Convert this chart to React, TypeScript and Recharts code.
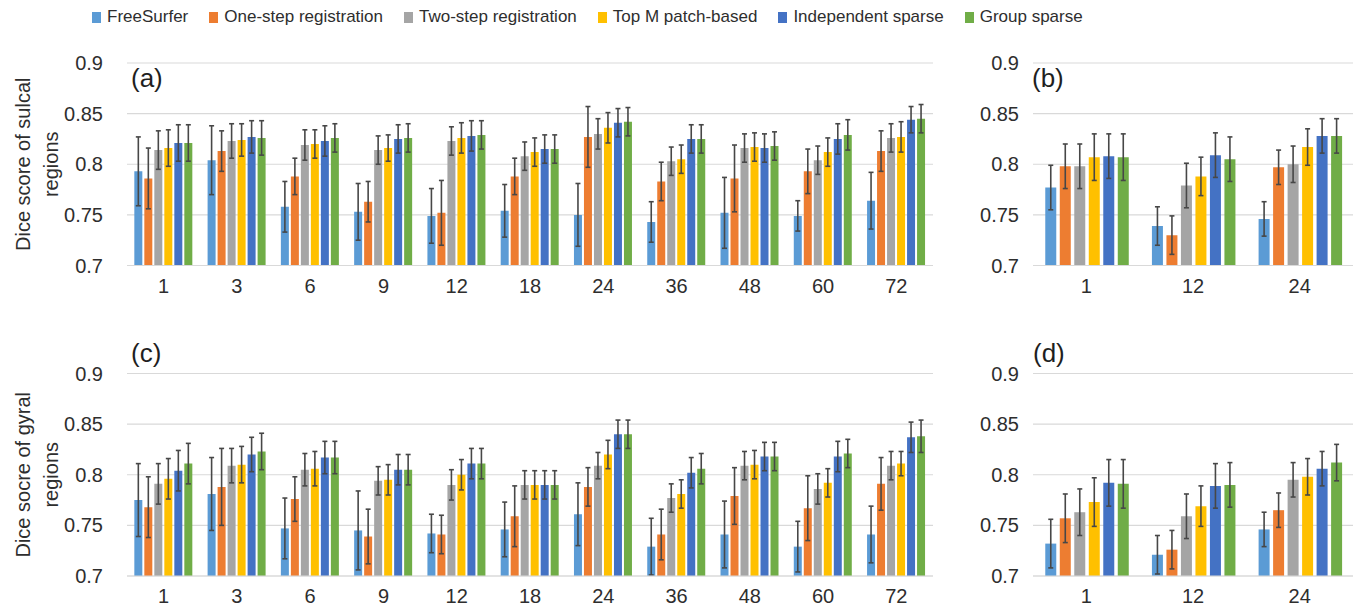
import React from "react";
import { Bar, BarChart, CartesianGrid, ErrorBar, Label, XAxis, YAxis } from "recharts";

const methodNames = [
  "FreeSurfer",
  "One-step registration",
  "Two-step registration",
  "Top M patch-based",
  "Independent sparse",
  "Group sparse",
];
const methodKeys = ["fs", "one", "two", "topm", "ind", "grp"];
const methodColors = ["#5b9bd5", "#ed7d31", "#a5a5a5", "#ffc000", "#4472c4", "#70ad47"];

const allAtlases = ["1", "3", "6", "9", "12", "18", "24", "36", "48", "60", "72"];
const fewAtlases = ["1", "12", "24"];
const yTicks = [0.7, 0.75, 0.8, 0.85, 0.9];

// (a) sulcal, rows = methods, columns = allAtlases
const sulcalMeans = [
  [0.793, 0.804, 0.758, 0.753, 0.749, 0.754, 0.75, 0.743, 0.752, 0.749, 0.764],
  [0.786, 0.813, 0.788, 0.763, 0.752, 0.788, 0.827, 0.783, 0.786, 0.793, 0.813],
  [0.814, 0.823, 0.819, 0.814, 0.823, 0.808, 0.83, 0.803, 0.816, 0.804, 0.826],
  [0.816, 0.824, 0.82, 0.816, 0.826, 0.812, 0.836, 0.805, 0.817, 0.812, 0.827],
  [0.821, 0.827, 0.823, 0.825, 0.828, 0.815, 0.841, 0.825, 0.816, 0.825, 0.844],
  [0.821, 0.826, 0.826, 0.826, 0.829, 0.815, 0.842, 0.825, 0.818, 0.829, 0.845],
];
const sulcalErrs = [
  [0.034, 0.034, 0.025, 0.028, 0.027, 0.026, 0.031, 0.02, 0.035, 0.015, 0.028],
  [0.03, 0.02, 0.018, 0.02, 0.032, 0.018, 0.03, 0.019, 0.033, 0.022, 0.02],
  [0.019, 0.017, 0.015, 0.014, 0.014, 0.014, 0.015, 0.014, 0.014, 0.014, 0.014],
  [0.018, 0.016, 0.014, 0.013, 0.015, 0.014, 0.015, 0.014, 0.014, 0.014, 0.015],
  [0.018, 0.016, 0.015, 0.014, 0.015, 0.014, 0.014, 0.014, 0.014, 0.015, 0.013],
  [0.018, 0.017, 0.014, 0.014, 0.014, 0.014, 0.014, 0.014, 0.014, 0.015, 0.014],
];

// (b) sulcal, columns = fewAtlases
const sulcalFewMeans = [
  [0.777, 0.739, 0.746],
  [0.798, 0.73, 0.797],
  [0.798, 0.779, 0.8],
  [0.807, 0.788, 0.817],
  [0.808, 0.809, 0.828],
  [0.807, 0.805, 0.828],
];
const sulcalFewErrs = [
  [0.022, 0.019, 0.017],
  [0.022, 0.019, 0.017],
  [0.022, 0.022, 0.018],
  [0.023, 0.019, 0.018],
  [0.022, 0.022, 0.017],
  [0.023, 0.022, 0.017],
];

// (c) gyral
const gyralMeans = [
  [0.775, 0.781, 0.747, 0.745, 0.742, 0.746, 0.761, 0.729, 0.741, 0.729, 0.741],
  [0.768, 0.788, 0.776, 0.739, 0.741, 0.759, 0.788, 0.741, 0.779, 0.767, 0.791],
  [0.791, 0.809, 0.805, 0.794, 0.79, 0.79, 0.809, 0.777, 0.809, 0.786, 0.809],
  [0.796, 0.81, 0.806, 0.795, 0.8, 0.79, 0.82, 0.781, 0.81, 0.792, 0.811],
  [0.804, 0.82, 0.817, 0.805, 0.811, 0.79, 0.84, 0.802, 0.818, 0.818, 0.837],
  [0.811, 0.823, 0.817, 0.805, 0.811, 0.79, 0.84, 0.806, 0.818, 0.821, 0.838],
];
const gyralErrs = [
  [0.036, 0.036, 0.03, 0.039, 0.019, 0.027, 0.031, 0.028, 0.033, 0.025, 0.028],
  [0.03, 0.038, 0.022, 0.027, 0.019, 0.03, 0.019, 0.025, 0.028, 0.032, 0.026],
  [0.02, 0.017, 0.016, 0.014, 0.015, 0.014, 0.013, 0.014, 0.014, 0.015, 0.014],
  [0.02, 0.018, 0.017, 0.015, 0.015, 0.014, 0.014, 0.014, 0.014, 0.014, 0.012],
  [0.02, 0.017, 0.016, 0.015, 0.015, 0.014, 0.014, 0.015, 0.014, 0.015, 0.015],
  [0.02, 0.018, 0.016, 0.015, 0.015, 0.014, 0.014, 0.015, 0.014, 0.014, 0.016],
];

// (d) gyral
const gyralFewMeans = [
  [0.732, 0.721, 0.746],
  [0.757, 0.726, 0.765],
  [0.763, 0.759, 0.795],
  [0.773, 0.769, 0.798],
  [0.792, 0.789, 0.806],
  [0.791, 0.79, 0.812],
];
const gyralFewErrs = [
  [0.024, 0.019, 0.017],
  [0.024, 0.019, 0.017],
  [0.023, 0.022, 0.017],
  [0.024, 0.02, 0.018],
  [0.023, 0.022, 0.017],
  [0.024, 0.022, 0.018],
];

function buildRows(atlases: string[], means: number[][], errs: number[][]) {
  return atlases.map((atlas, i) => {
    const row: Record<string, string | number> = { atlas };
    methodKeys.forEach((key, m) => {
      row[key] = means[m][i];
      row[key + "Err"] = errs[m][i];
    });
    return row;
  });
}

const textColor = "#2e2e2e";
const gridColor = "#d9d9d9";
const fontFamily = "'Liberation Sans', Arial, sans-serif";
const axisTick = { fill: textColor, fontSize: 20, fontFamily };

function axisTitle(lines: string[]) {
  return (props: any) => {
    const vb = props.viewBox || { x: 0, y: 0, height: 200 };
    const cy = vb.y + vb.height / 2;
    return (
      <text
        transform={`translate(0, ${cy}) rotate(-90)`}
        textAnchor="middle"
        fontSize={20}
        fontFamily={fontFamily}
        fill={textColor}
      >
        <tspan x={0} y={30}>
          {lines[0]}
        </tspan>
        <tspan x={0} y={58}>
          {lines[1]}
        </tspan>
      </text>
    );
  };
}

function DicePanel({
  data,
  left,
  top,
  width,
  height,
  marginTop,
  marginRight,
  axisWidth,
  tickGap,
  categoryGap,
  barGap,
  titleLines,
}: {
  data: Record<string, string | number>[];
  left: number;
  top: number;
  width: number;
  height: number;
  marginTop: number;
  marginRight: number;
  axisWidth: number;
  tickGap: number;
  categoryGap: string;
  barGap: number;
  titleLines?: string[];
}) {
  return (
    <div style={{ position: "absolute", left, top }}>
      <BarChart
        width={width}
        height={height}
        data={data}
        margin={{ top: marginTop, right: marginRight, left: 0, bottom: 0 }}
        barCategoryGap={categoryGap}
        barGap={barGap}
      >
        <CartesianGrid vertical={false} stroke={gridColor} strokeWidth={1.2} />
        <XAxis
          dataKey="atlas"
          interval={0}
          axisLine={{ stroke: gridColor, strokeWidth: 1.2 }}
          tickLine={false}
          tickMargin={7}
          tick={axisTick}
          height={40}
        />
        <YAxis
          domain={[0.7, 0.9]}
          ticks={yTicks}
          allowDataOverflow
          axisLine={false}
          tickLine={false}
          tick={axisTick}
          width={axisWidth}
          tickMargin={tickGap}
        >
          {titleLines && <Label content={axisTitle(titleLines)} />}
        </YAxis>
        {methodKeys.map((key, i) => (
          <Bar
            key={key}
            dataKey={key}
            name={methodNames[i]}
            fill={methodColors[i]}
            isAnimationActive={false}
          >
            <ErrorBar
              dataKey={key + "Err"}
              width={2.5}
              strokeWidth={1.6}
              stroke="#474747"
              isAnimationActive={false}
            />
          </Bar>
        ))}
      </BarChart>
    </div>
  );
}

function Tag({ text, left, top }: { text: string; left: number; top: number }) {
  return (
    <div
      style={{
        position: "absolute",
        left,
        top,
        fontSize: 26,
        lineHeight: "26px",
        color: "#1f1f1f",
        fontFamily,
      }}
    >
      {text}
    </div>
  );
}

export default function App() {
  return (
    <div
      style={{
        position: "absolute",
        left: 0,
        top: 0,
        width: 1362,
        height: 610,
        background: "#ffffff",
        overflow: "hidden",
        fontFamily,
      }}
    >
      <div
        style={{
          position: "absolute",
          left: 92,
          top: 7,
          display: "flex",
          gap: 21,
          fontSize: 17,
          lineHeight: "20px",
          color: textColor,
          whiteSpace: "nowrap",
        }}
      >
        {methodNames.map((name, i) => (
          <div key={name} style={{ display: "flex", alignItems: "center", gap: 6 }}>
            <span style={{ width: 9, height: 11, background: methodColors[i], display: "inline-block" }} />
            <span>{name}</span>
          </div>
        ))}
      </div>

      <DicePanel
        data={buildRows(allAtlases, sulcalMeans, sulcalErrs)}
        left={0}
        top={40}
        width={940}
        height={265.5}
        marginTop={23}
        marginRight={7}
        axisWidth={127}
        tickGap={18}
        categoryGap="10%"
        barGap={2}
        titleLines={["Dice score of sulcal", "regions"]}
      />
      <DicePanel
        data={buildRows(fewAtlases, sulcalFewMeans, sulcalFewErrs)}
        left={960}
        top={40}
        width={402}
        height={265.5}
        marginTop={23}
        marginRight={9}
        axisWidth={73}
        tickGap={8}
        categoryGap="11.5%"
        barGap={3.5}
      />
      <DicePanel
        data={buildRows(allAtlases, gyralMeans, gyralErrs)}
        left={0}
        top={340}
        width={940}
        height={276}
        marginTop={33.5}
        marginRight={7}
        axisWidth={127}
        tickGap={18}
        categoryGap="10%"
        barGap={2}
        titleLines={["Dice socre of gyral", "regions"]}
      />
      <DicePanel
        data={buildRows(fewAtlases, gyralFewMeans, gyralFewErrs)}
        left={960}
        top={340}
        width={402}
        height={276}
        marginTop={33.5}
        marginRight={9}
        axisWidth={73}
        tickGap={8}
        categoryGap="11.5%"
        barGap={3.5}
      />

      <Tag text="(a)" left={131} top={65} />
      <Tag text="(b)" left={1032} top={65} />
      <Tag text="(c)" left={131} top={340} />
      <Tag text="(d)" left={1033} top={340} />
    </div>
  );
}
